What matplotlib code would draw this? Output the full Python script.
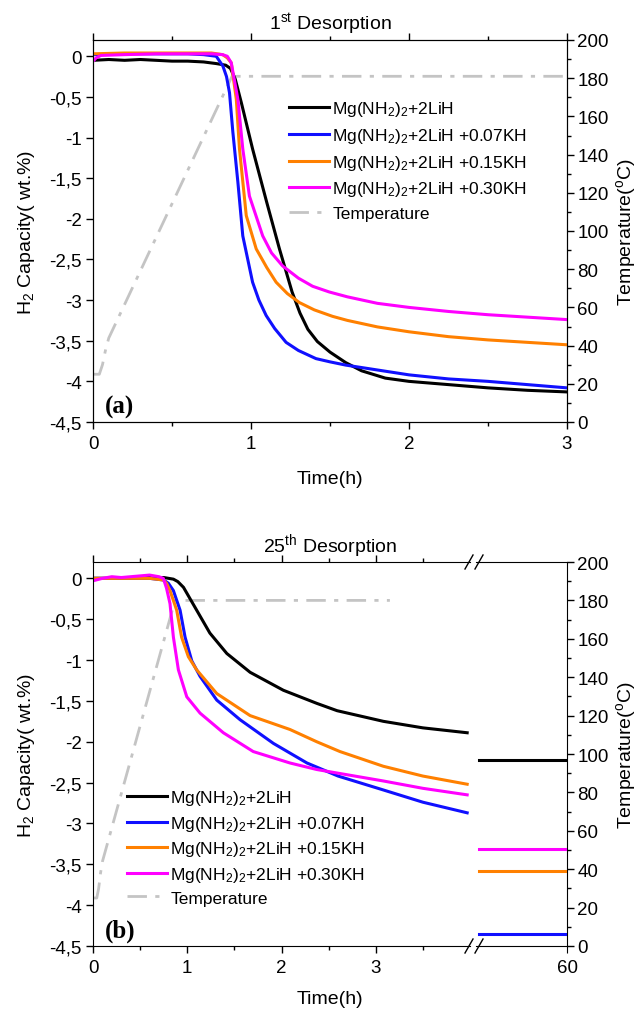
import matplotlib
matplotlib.use('Agg')
import matplotlib.pyplot as plt
from matplotlib.ticker import MultipleLocator, FixedLocator, FuncFormatter
from matplotlib.lines import Line2D

plt.rcParams['font.family'] = ['Liberation Sans', 'DejaVu Sans']
plt.rcParams['mathtext.fontset'] = 'custom'
plt.rcParams['mathtext.rm'] = 'Liberation Sans'
plt.rcParams['mathtext.it'] = 'Liberation Sans:italic'
plt.rcParams['mathtext.bf'] = 'Liberation Sans:bold'

# --- DADOS: 1st desorption (time in h, capacity in wt.%) ---
T1_BLACK = [0, 0.1, 0.2, 0.3, 0.4, 0.5, 0.6, 0.7, 0.78, 0.84, 0.87, 0.9, 0.94, 1.01, 1.1, 1.18,
            1.26, 1.31, 1.36, 1.42, 1.5, 1.6, 1.7, 1.85, 2.0, 2.25, 2.5, 2.75, 3.0]
Y1_BLACK = [-0.05, -0.04, -0.05, -0.04, -0.05, -0.06, -0.06, -0.07, -0.09, -0.11, -0.15, -0.28, -0.58,
            -1.14, -1.8, -2.37, -2.9, -3.16, -3.36, -3.51, -3.64, -3.77, -3.87, -3.96, -4.0, -4.04,
            -4.08, -4.11, -4.13]

T1_BLUE = [0, 0.2, 0.4, 0.6, 0.7, 0.78, 0.822, 0.845, 0.864, 0.885, 0.917, 0.948, 1.01, 1.05, 1.096,
           1.15, 1.222, 1.3, 1.411, 1.5, 1.6, 1.8, 2.0, 2.25, 2.5, 2.75, 3.0]
Y1_BLUE = [0.02, 0.03, 0.03, 0.03, 0.02, 0.0, -0.12, -0.25, -0.45, -0.93, -1.55, -2.21, -2.78, -3.0,
           -3.19, -3.35, -3.52, -3.62, -3.72, -3.76, -3.8, -3.86, -3.92, -3.97, -4.0, -4.04, -4.08]

T1_ORANGE = [0, 0.2, 0.4, 0.6, 0.75, 0.82, 0.85, 0.875, 0.907, 0.927, 0.97, 1.033, 1.1, 1.159, 1.23,
             1.306, 1.4, 1.516, 1.61, 1.8, 2.0, 2.25, 2.5, 2.75, 3.0]
Y1_ORANGE = [0.03, 0.04, 0.04, 0.04, 0.04, 0.02, -0.02, -0.08, -0.53, -1.14, -1.96, -2.37, -2.6, -2.78,
             -2.92, -3.03, -3.12, -3.2, -3.25, -3.33, -3.39, -3.45, -3.49, -3.52, -3.55]

T1_MAGENTA = [0, 0.02, 0.05, 0.2, 0.4, 0.6, 0.75, 0.82, 0.85, 0.875, 0.917, 0.948, 0.99, 1.074, 1.13,
              1.2, 1.3, 1.39, 1.495, 1.61, 1.8, 2.0, 2.25, 2.5, 2.75, 3.0]
Y1_MAGENTA = [-0.06, -0.02, 0.01, 0.02, 0.03, 0.03, 0.03, 0.02, 0.0, -0.08, -0.53, -1.14, -1.72, -2.21,
              -2.42, -2.58, -2.73, -2.83, -2.9, -2.96, -3.04, -3.09, -3.14, -3.18, -3.21, -3.24]

T1_TEMP = [0, 0.04, 0.06, 0.08, 0.10, 0.88, 3.0]
V1_TEMP = [25, 25, 30, 38, 44, 181, 181]

# --- DADOS: 25th desorption ---
T2_BLACK = [0, 0.3, 0.6, 0.75, 0.853, 0.9, 0.96, 1.03, 1.1, 1.24, 1.42, 1.667, 2.02, 2.374, 2.59,
            3.08, 3.5, 3.97]
Y2_BLACK = [0.0, 0.0, 0.01, 0.01, -0.01, -0.04, -0.11, -0.25, -0.39, -0.67, -0.92, -1.15, -1.37,
            -1.53, -1.62, -1.75, -1.83, -1.89]

T2_BLUE = [0, 0.3, 0.6, 0.746, 0.8, 0.853, 0.924, 0.977, 1.048, 1.136, 1.313, 1.56, 1.914, 2.27,
           2.6, 3.08, 3.5, 3.97]
Y2_BLUE = [0.0, 0.0, 0.0, -0.02, -0.06, -0.15, -0.39, -0.72, -1.01, -1.2, -1.49, -1.73, -2.02, -2.26,
           -2.42, -2.59, -2.74, -2.87]

T2_ORANGE = [0, 0.3, 0.6, 0.746, 0.78, 0.817, 0.888, 0.94, 1.012, 1.1, 1.313, 1.667, 2.09, 2.374,
             2.62, 3.08, 3.5, 3.97]
Y2_ORANGE = [0.0, 0.0, 0.0, -0.02, -0.06, -0.15, -0.39, -0.72, -0.96, -1.12, -1.41, -1.68, -1.85,
             -2.0, -2.12, -2.3, -2.42, -2.52]

T2_MAGENTA = [0, 0.1, 0.2, 0.3, 0.4, 0.5, 0.6, 0.7, 0.746, 0.78, 0.817, 0.853, 0.906, 0.995, 1.136,
              1.383, 1.7, 2.09, 2.374, 3.08, 3.5, 3.97]
Y2_MAGENTA = [-0.03, 0.0, 0.02, 0.01, 0.02, 0.03, 0.04, 0.02, 0.0, -0.12, -0.31, -0.72, -1.12, -1.45,
              -1.65, -1.89, -2.12, -2.26, -2.34, -2.48, -2.57, -2.65]

T2_TEMP = [0, 0.04, 0.06, 0.08, 0.10, 0.87, 3.15]
V2_TEMP = [25, 25, 30, 38, 44, 180, 180]

# after the axis break (60 h)
T2_LATE = [50.3, 55, 60]
Y2_LATE = {'black': -2.22, 'blue': -4.35, 'orange': -3.58, 'magenta': -3.31}

LABELS = ['Mg(NH$_2$)$_2$+2LiH',
          'Mg(NH$_2$)$_2$+2LiH +0.07KH',
          'Mg(NH$_2$)$_2$+2LiH +0.15KH',
          'Mg(NH$_2$)$_2$+2LiH +0.30KH',
          'Temperature']
COLORS = {'black': '#000000', 'blue': '#1010ff', 'orange': '#ff8000', 'magenta': '#ff00ff'}
GRAY = '#c4c4c4'
DASHDOT = (0, (7, 3, 1.5, 3))
LW = 2.2
FS_TICK = 13.5
FS_LAB = 14
FS_LEG = 12.5

W, H = 637, 1012
fig = plt.figure(figsize=(W / 100, H / 100), dpi=100)


def px_box(x0, y0, x1, y1):
    return [x0 / W, 1 - y1 / H, (x1 - x0) / W, (y1 - y0) / H]


comma = FuncFormatter(lambda v, p: ('%g' % v).replace('.', ','))


def style_capacity_axis(ax):
    ax.set_ylim(-4.5, 0.2)
    ax.yaxis.set_major_locator(MultipleLocator(0.5))
    ax.yaxis.set_major_formatter(comma)
    ax.tick_params(axis='both', which='both', direction='out', labelsize=FS_TICK, top=True, right=False)
    ax.tick_params(which='major', length=5, width=1)
    ax.tick_params(which='minor', length=3, width=1)
    ax.tick_params(axis='y', pad=3)
    ax.tick_params(axis='x', pad=4.5)
    ax.set_ylabel('H$_2$ Capacity( wt.%)', fontsize=FS_LAB, labelpad=9)
    ax.patch.set_visible(False)


def style_temp_axis(axT):
    axT.set_ylim(0, 200)
    axT.yaxis.set_major_locator(MultipleLocator(20))
    axT.yaxis.set_minor_locator(MultipleLocator(10))
    axT.tick_params(axis='y', which='both', direction='out', labelsize=FS_TICK)
    axT.tick_params(which='major', length=5, width=1, pad=2.5)
    axT.tick_params(which='minor', length=3, width=1)
    axT.set_ylabel('Temperature($^{\\rm o}$C)', fontsize=FS_LAB, labelpad=4)


# ---------------- (a) 1st desorption ----------------
ax1 = fig.add_axes(px_box(93, 41, 567, 423))
ax1T = ax1.twinx()
ax1.set_zorder(ax1T.get_zorder() + 1)

ax1T.plot(T1_TEMP, V1_TEMP, color=GRAY, lw=2, linestyle=DASHDOT)
ax1.plot(T1_BLACK, Y1_BLACK, color=COLORS['black'], lw=LW)
ax1.plot(T1_BLUE, Y1_BLUE, color=COLORS['blue'], lw=LW)
ax1.plot(T1_ORANGE, Y1_ORANGE, color=COLORS['orange'], lw=LW)
ax1.plot(T1_MAGENTA, Y1_MAGENTA, color=COLORS['magenta'], lw=LW)

ax1.set_xlim(0, 3)
ax1.xaxis.set_major_locator(MultipleLocator(1))
ax1.xaxis.set_minor_locator(MultipleLocator(0.5))
style_capacity_axis(ax1)
style_temp_axis(ax1T)
ax1.set_xlabel('Time(h)', fontsize=FS_LAB, labelpad=13)
ax1.set_title('1$^{\\rm st}$ Desorption', fontsize=FS_LAB, pad=8)
ax1.text(0.025, 0.025, '(a)', transform=ax1.transAxes, fontsize=18, fontweight='bold',
         family='Liberation Serif', va='baseline')

handles = [Line2D([], [], color=COLORS[k], lw=LW) for k in ['black', 'blue', 'orange', 'magenta']]
handles.append(Line2D([], [], color=GRAY, lw=2, linestyle=DASHDOT))

fig.legend(handles, LABELS, loc='upper left', bbox_to_anchor=(289 / W, 1 - 100 / H),
           frameon=False, fontsize=FS_LEG, handlelength=2.3, handletextpad=0.2,
           labelspacing=0.45, borderpad=0, borderaxespad=0)

# ---------------- (b) 25th desorption, broken x axis ----------------
X_BREAK_L, X_BREAK_R = 470, 476
axL = fig.add_axes(px_box(93, 563, X_BREAK_L, 947))
axR = fig.add_axes(px_box(X_BREAK_R, 563, 567, 947))
axT = fig.add_axes(px_box(93, 563, 567, 947))
axT.set_zorder(0)
axL.set_zorder(1)
axR.set_zorder(1)

XMAX_L = 4.0
axT.plot(T2_TEMP, V2_TEMP, color=GRAY, lw=2, linestyle=DASHDOT)
axT.set_xlim(0, XMAX_L * (567 - 93) / (X_BREAK_L - 93))
axT.xaxis.set_visible(False)
for s in ['left', 'top', 'bottom']:
    axT.spines[s].set_visible(False)
axT.yaxis.tick_right()
axT.yaxis.set_label_position('right')
style_temp_axis(axT)
axT.set_title('25$^{\\rm th}$ Desorption', fontsize=FS_LAB, pad=8)

axL.plot(T2_BLACK, Y2_BLACK, color=COLORS['black'], lw=LW)
axL.plot(T2_BLUE, Y2_BLUE, color=COLORS['blue'], lw=LW)
axL.plot(T2_ORANGE, Y2_ORANGE, color=COLORS['orange'], lw=LW)
axL.plot(T2_MAGENTA, Y2_MAGENTA, color=COLORS['magenta'], lw=LW)
axL.set_xlim(0, XMAX_L)
axL.xaxis.set_major_locator(FixedLocator([0, 1, 2, 3]))
axL.xaxis.set_minor_locator(FixedLocator([0.5, 1.5, 2.5, 3.5]))
style_capacity_axis(axL)
axL.spines['right'].set_visible(False)
axL.text(0.032, 0.025, '(b)', transform=axL.transAxes, fontsize=18, fontweight='bold',
         family='Liberation Serif', va='baseline')

for k in ['black', 'blue', 'orange', 'magenta']:
    axR.plot(T2_LATE, [Y2_LATE[k]] * len(T2_LATE), color=COLORS[k], lw=LW)
axR.set_xlim(50, 60)
axR.set_ylim(-4.5, 0.2)
axR.xaxis.set_major_locator(FixedLocator([60]))
axR.tick_params(axis='x', which='both', direction='out', labelsize=FS_TICK, length=5, pad=4.5, top=False)
axR.tick_params(axis='y', which='both', left=False, right=False, labelleft=False)
axR.spines['left'].set_visible(False)
axR.spines['right'].set_visible(False)
axR.patch.set_visible(False)

# break marks "//" on top and bottom spines
for yb in [563, 947]:
    for xb in [X_BREAK_L - 1, X_BREAK_R + 3]:
        fig.add_artist(Line2D([(xb - 4) / W, (xb + 4) / W], [1 - (yb + 7) / H, 1 - (yb - 7) / H],
                              color='black', lw=1))

fig.text(330 / W, 1 - 1000 / H, 'Time(h)', fontsize=FS_LAB, ha='center', va='center')

fig.legend(handles, LABELS, loc='upper left', bbox_to_anchor=(127 / W, 1 - 789 / H),
           frameon=False, fontsize=FS_LEG, handlelength=2.3, handletextpad=0.2,
           labelspacing=0.38, borderpad=0, borderaxespad=0)

fig.savefig('out.png', dpi=100)
